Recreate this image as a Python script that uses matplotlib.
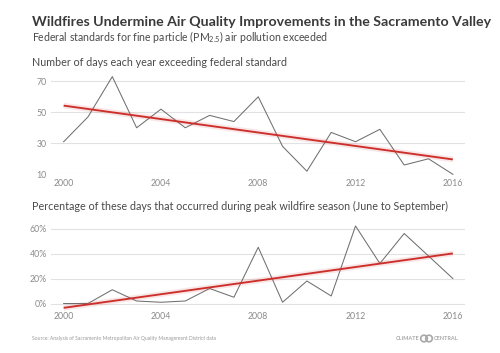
import numpy as np
import matplotlib
matplotlib.use("Agg")
import matplotlib.pyplot as plt
from matplotlib.patches import Circle

# data
years = np.arange(2000, 2017)
days_exceeding = [31, 47, 73, 40, 52, 40, 48, 44, 60, 28, 12, 37, 31, 39, 16, 20, 10]
pct_wildfire_season = [0, 0, 11, 2, 1, 2, 12, 5, 45, 1, 18, 6, 62, 32, 56, 38, 20]

top_yticks = [10, 30, 50, 70]
bottom_yticks = [0, 20, 40, 60]
xticks = [2000, 2004, 2008, 2012, 2016]

title = "Wildfires Undermine Air Quality Improvements in the Sacramento Valley"
subtitle = "Federal standards for fine particle (PM$_{2.5}$) air pollution exceeded"
top_label = "Number of days each year exceeding federal standard"
bottom_label = "Percentage of these days that occurred during peak wildfire season (June to September)"
source = "Analysis of Sacramento Metropolitan Air Quality Management District data"

plt.rcParams['font.family'] = ['Lato', 'DejaVu Sans']
plt.rcParams['mathtext.fontset'] = 'custom'
plt.rcParams['mathtext.rm'] = 'Lato'
plt.rcParams['mathtext.it'] = 'Lato'
plt.rcParams['mathtext.default'] = 'rm'

W, H = 500, 353
fig = plt.figure(figsize=(W / 100, H / 100), dpi=100)
fig.patch.set_facecolor("white")

line_col = "#707070"
trend_col = "#cc2f2a"
grid_col = "#e2e2e2"
tick_col = "#8a8a8a"
text_col = "#4a4a4a"


def fx(px):
    return px / W


def fy(py):
    return 1 - py / H


def style_axes(ax, yticks, fmt, pad_x):
    ax.set_xlim(1999.48, 2016.5)
    ax.set_xticks(xticks)
    ax.set_yticks(yticks)
    ax.set_yticklabels([fmt.format(t) for t in yticks])
    ax.grid(axis="y", color=grid_col, linewidth=0.8)
    ax.set_axisbelow(True)
    for s in ax.spines.values():
        s.set_visible(False)
    ax.tick_params(length=0, labelsize=6.3, labelcolor=tick_col)
    ax.tick_params(axis="x", pad=pad_x)
    ax.tick_params(axis="y", pad=3)
    ax.set_facecolor("none")


def draw_series(ax, vals):
    ax.plot(years, vals, color=line_col, linewidth=0.75, clip_on=False, zorder=3)
    k, b = np.polyfit(years, vals, 1)
    trend = k * years + b
    # soft pink glow under the trend line
    ax.plot(years, trend, color=trend_col, linewidth=4, alpha=0.12,
            solid_capstyle="butt", clip_on=False, zorder=4)
    ax.plot(years, trend, color=trend_col, linewidth=1.35,
            solid_capstyle="butt", clip_on=False, zorder=5)


# top panel
ax1 = fig.add_axes([fx(51), fy(174.3), fx(465 - 51), (174.3 - 73.5) / H])
style_axes(ax1, top_yticks, "{}", 3.5)
ax1.set_ylim(10, 75)
draw_series(ax1, days_exceeding)

# bottom panel
ax2 = fig.add_axes([fx(51), fy(309.75), fx(465 - 51), (309.75 - 222.25) / H])
style_axes(ax2, bottom_yticks, "{}%", 1.5)
ax2.set_ylim(-5, 65)
draw_series(ax2, pct_wildfire_season)

# texts
fig.text(fx(32), fy(22), title, fontsize=10.2, fontweight="bold",
         color="#3a3a3a", va="center", ha="left")
fig.text(fx(32), fy(37), subtitle, fontsize=7.6, color=text_col,
         va="center", ha="left")
fig.text(fx(32), fy(63), top_label, fontsize=7.75, color=text_col,
         va="center", ha="left")
fig.text(fx(32), fy(206), bottom_label, fontsize=7.75, color=text_col,
         va="center", ha="left")
fig.text(fx(32), fy(338.5), "Source: " + source, fontsize=3.6,
         color="#9a9a9a", va="center", ha="left")

# logo
logo_col = "#a8a8a8"
fig.text(fx(419.5), fy(338.5), "CLIMATE", fontsize=4, color=logo_col,
         fontweight="bold", va="center", ha="right")
fig.text(fx(433.5), fy(338.5), "CENTRAL", fontsize=4, color=logo_col,
         fontweight="bold", va="center", ha="left")
for cx in (424.0, 429.0):
    fig.patches.append(Circle((cx / 100, (H - 338.5) / 100), 3.3 / 100,
                              transform=fig.dpi_scale_trans, fill=False,
                              edgecolor=logo_col, linewidth=1.2))

fig.savefig("out.png", dpi=100, facecolor="white")
